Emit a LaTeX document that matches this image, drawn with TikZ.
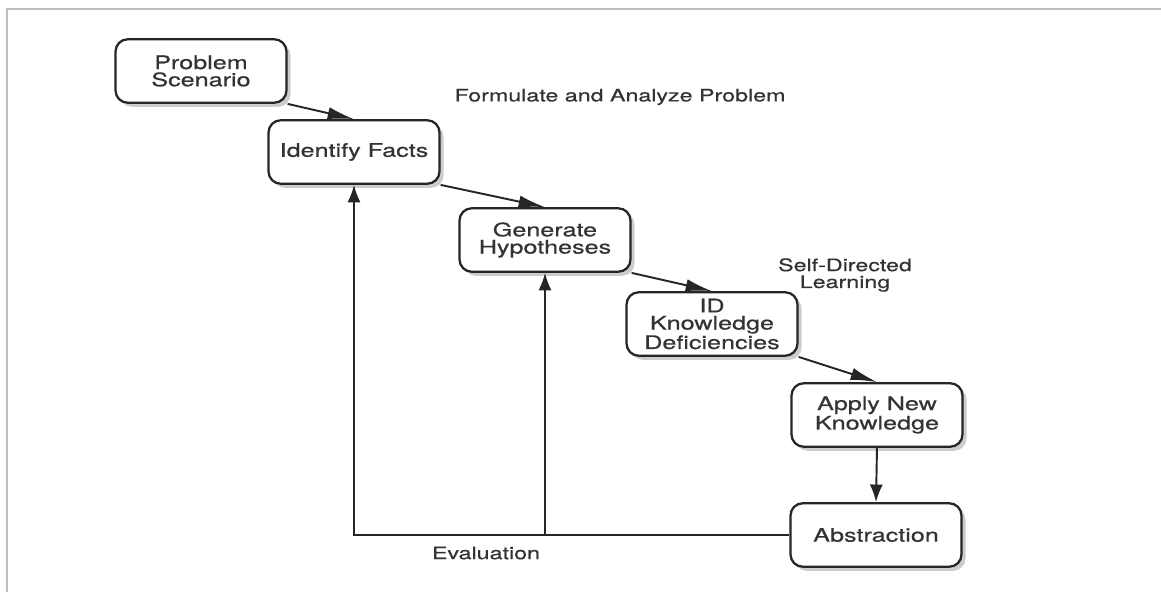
\documentclass[tikz,border=0pt]{standalone}
\usepackage{fontspec}
\newfontfamily\stagefont[FakeStretch=1.35,FakeBold=0.6]{TeX Gyre Heros}
\usetikzlibrary{arrows.meta,shadows}

\begin{document}
\begin{tikzpicture}[
  x=0.02cm, y=-0.02cm,
  font=\stagefont\fontsize{9.8}{9.6}\selectfont,
  stage/.style={draw=black!85, line width=1.3pt, rounded corners=7pt, fill=white,
    minimum width=3.42cm, minimum height=1.27cm, inner ysep=2pt, align=center, text=black!80,
    font=\stagefont\fontsize{10.6}{9.8}\selectfont,
    drop shadow={shadow xshift=2.3pt, shadow yshift=-2.3pt, fill=black!40}},
  flow/.style={draw=black!85, line width=1.1pt, -{Latex[length=15pt,width=7pt]}},
  back/.style={draw=black!85, line width=1.1pt, -{Latex[length=10pt,width=7.5pt]}},
  note/.style={text=black!80, align=center}
]
  \useasboundingbox (0,0) rectangle (1161,592);
  \draw[black!25, line width=1pt] (7,592) -- (7,9) -- (1161,9);
  \node[stage] (ps) at (201,71) {Problem\\Scenario};
  \node[stage] (facts) at (354,152) {Identify Facts};
  \node[stage] (hyp) at (545,240) {Generate\\Hypotheses};
  \node[stage] (defic) at (712,324) {ID\\Knowledge\\Deficiencies};
  \node[stage] (apply) at (877,415) {Apply New\\Knowledge};
  \node[stage] (abstr) at (876,535) {Abstraction};
  \node[note] (formulate) at (620,97) {Formulate and Analyze Problem};
  \node[note] (sdl) at (845,275) {Self-Directed\\Learning};
  \node[note] (eval) at (486,553) {Evaluation};
  \draw[flow] (ps.south east) -- (facts.north);
  \draw[flow] (facts.south east) -- (hyp.north);
  \draw[flow] (hyp.south east) -- (defic.north);
  \draw[flow] (defic.south east) -- (apply.north);
  \draw[back] (apply.south) -- (abstr.north);
  \coordinate (split) at (hyp.south |- abstr.west);
  \draw[back] (abstr.west) -| (facts.south);
  \draw[back] (split) -- (hyp.south);
\end{tikzpicture}
\end{document}
